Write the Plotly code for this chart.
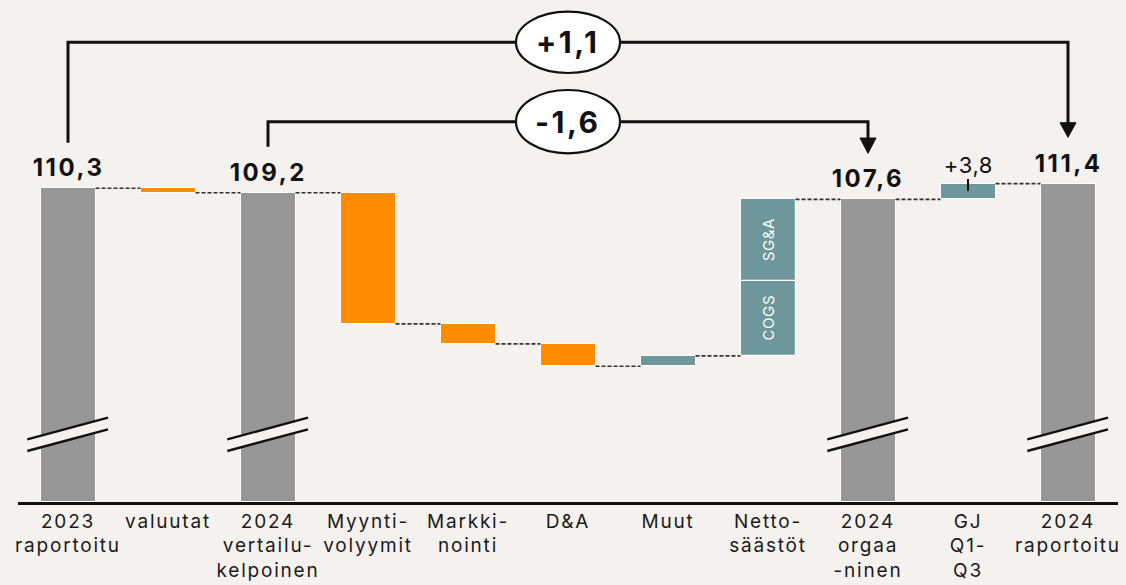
import plotly.graph_objects as go

# ---------------- data ----------------
categories = ["2023<br>raportoitu", "valuutat", "2024<br>vertailu-<br>kelpoinen",
              "Myynti-<br>volyymit", "Markki-<br>nointi", "D&A", "Muut",
              "Netto-<br>säästöt", "2024<br>orgaa<br>-ninen", "GJ<br>Q1-<br>Q3",
              "2024<br>raportoitu"]
total_idx = [0, 2, 8, 10]
total_values = [110.3, 109.2, 107.6, 111.4]
delta_idx = [1, 3, 4, 5, 6, 9]
delta_values = [-1.1, -31.6, -4.8, -5.4, 2.5, 3.8]
split_idx = 7
split_names = ["COGS", "SG&A"]
split_values = [18.1, 19.6]
bridge_labels = ["+1,1", "-1,6"]
gj_label = "+3,8"

# ---------------- style ----------------
BG = "#F5F1EE"
GRAY = "#979797"
ORANGE = "#FF8C00"
TEAL = "#6D979B"
FONT = "Inter"
BAR_W = 0.55
PLOT_H = 502
K = 4.15                      # pixels per unit on the value axis
Y_BOTTOM = 34.69
Y_TOP = Y_BOTTOM + PLOT_H / K


def yp(p):
    """pixel row inside plot -> paper fraction"""
    return 1 - p / PLOT_H


def fmt(v):
    return f"{v:.1f}".replace(".", ",")


# ---------------- walk the bridge ----------------
totals = dict(zip(total_idx, total_values))
deltas = dict(zip(delta_idx, delta_values))
levels = []
level = None
bars = {"gray": ([], [], []), "orange": ([], [], []), "teal": ([], [], [])}
split_bars = []
for i in range(len(categories)):
    if i in totals:
        level = totals[i]
        bars["gray"][0].append(i)
        bars["gray"][1].append(level - Y_BOTTOM)
        bars["gray"][2].append(Y_BOTTOM)
    elif i in deltas:
        d = deltas[i]
        key = "orange" if d < 0 else "teal"
        bars[key][0].append(i)
        bars[key][1].append(abs(d))
        bars[key][2].append(level + min(d, 0))
        level = level + d
    elif i == split_idx:
        b = level
        for name, v in zip(split_names, split_values):
            split_bars.append((i, v, b, name))
            b += v
        level = b
    levels.append(level)

fig = go.Figure()
colors = {"gray": GRAY, "orange": ORANGE, "teal": TEAL}
for key, (xs, hs, bs) in bars.items():
    fig.add_trace(go.Bar(x=xs, y=hs, base=bs, width=BAR_W,
                         marker=dict(color=colors[key], line=dict(color="white", width=1)),
                         hoverinfo="skip", showlegend=False))
for (i, v, b, name) in split_bars:
    fig.add_trace(go.Bar(x=[i], y=[v], base=[b], width=BAR_W,
                         marker=dict(color=TEAL, line=dict(color="white", width=1.2)),
                         hoverinfo="skip", showlegend=False))

# connectors
cx, cy = [], []
for i in range(len(categories) - 1):
    cx += [i + BAR_W / 2, i + 1 - BAR_W / 2, None]
    cy += [levels[i], levels[i], None]
fig.add_trace(go.Scatter(x=cx, y=cy, mode="lines",
                         line=dict(color="#333333", width=1.6, dash="4px,2px"),
                         hoverinfo="skip", showlegend=False))

annotations = []
shapes = []
tight_idx = []   # annotations with little letter spacing

# total labels
for i, v in zip(total_idx, total_values):
    annotations.append(dict(x=i, y=v, xref="x", yref="y", text=fmt(v), showarrow=False,
                            yanchor="bottom", yshift=4,
                            font=dict(family=FONT, size=24, color="#111111", weight="bold")))
# GJ label
gj_i = delta_idx[-1]
tight_idx.append(len(annotations))
annotations.append(dict(x=gj_i, y=levels[gj_i], xref="x", yref="y", text=gj_label,
                        showarrow=False, yanchor="bottom", yshift=4,
                        font=dict(family=FONT, size=22, color="#111111")))
shapes.append(dict(type="line", xref="x", yref="paper", x0=gj_i, x1=gj_i,
                   y0=yp(179), y1=yp(191), line=dict(color="#111111", width=2)))

# split labels
for (i, v, b, name) in split_bars:
    tight_idx.append(len(annotations))
    annotations.append(dict(x=i, y=b + v / 2, xref="x", yref="y", text=name, showarrow=False,
                            textangle=-90, font=dict(family=FONT, size=15, color="white")))

# axis breaks
for i in total_idx:
    xl, xr = i - 0.407, i + 0.40
    shapes.append(dict(type="path", xref="x", yref="paper", layer="above",
                       path=f"M {xl},{yp(439.3)} L {xr},{yp(417.7)} L {xr},{yp(429.3)} L {xl},{yp(451)} Z",
                       fillcolor=BG, line=dict(width=0)))
    for (pl, pr) in [(439.3, 417.7), (451, 429.3)]:
        shapes.append(dict(type="line", xref="x", yref="paper", x0=xl, x1=xr,
                           y0=yp(pl), y1=yp(pr), line=dict(color="#111111", width=2.4)))

# brackets
brackets = [  # (from, to, start row, top row, arrow top, arrow tip, ellipse top, ellipse bottom)
    (0, 10, 142.7, 42.3, 122.7, 137.3, 11.7, 73.0),
    (2, 8, 146.7, 121.7, 138.0, 153.3, 90.0, 153.3),
]
for (a, b, p0, pt, at, tip, e0, e1), lab in zip(brackets, bridge_labels):
    shapes.append(dict(type="path", xref="x", yref="paper",
                       path=f"M {a},{yp(p0)} L {a},{yp(pt)} L {b},{yp(pt)} L {b},{yp(at + 2)}",
                       line=dict(color="#111111", width=3)))
    shapes.append(dict(type="path", xref="x", yref="paper",
                       path=f"M {b - 0.08},{yp(at)} L {b + 0.08},{yp(at)} L {b},{yp(tip)} Z",
                       fillcolor="#111111", line=dict(color="#111111", width=1)))
    mid = (a + b) / 2
    shapes.append(dict(type="circle", xref="x", yref="paper",
                       x0=mid - 0.52, x1=mid + 0.52, y0=yp(e1), y1=yp(e0),
                       fillcolor="white", line=dict(color="#111111", width=2.2)))
    annotations.append(dict(x=mid, y=yp((e0 + e1) / 2), xref="x", yref="paper", text=lab,
                            showarrow=False, yanchor="middle",
                            font=dict(family=FONT, size=30, color="#111111", weight="bold")))

fig.update_layout(
    width=1126, height=585, autosize=False,
    margin=dict(l=18, r=8, t=0, b=585 - PLOT_H),
    paper_bgcolor=BG, plot_bgcolor=BG,
    barmode="overlay", bargap=0,
    shapes=shapes, annotations=annotations,
    xaxis=dict(range=[-0.5, len(categories) - 0.5], tickmode="array",
               tickvals=list(range(len(categories))), ticktext=categories,
               showgrid=False, zeroline=False, showline=True, linecolor="#111111",
               linewidth=2.5, ticks="", tickfont=dict(family=FONT, size=19, color="#1a1a1a"),
               fixedrange=True),
    yaxis=dict(range=[Y_BOTTOM, Y_TOP], visible=False, fixedrange=True),
    font=dict(family=FONT),
)

tight_sel = ", ".join(f'g.annotation[data-index="{k}"] text' for k in tight_idx)
css = ("html,body{margin:0;padding:0;background:%s;} "
       ".xtick text{letter-spacing:1.8px;} .annotation-text{letter-spacing:2.5px;} "
       "%s{letter-spacing:0.6px !important;}") % (BG, tight_sel)
post = """
var s = document.createElement('style');
s.innerHTML = '%s';
document.head.appendChild(s);
""" % css.replace("'", "\\'")
fig.write_html("out.html", post_script=post, config={"displayModeBar": False})
